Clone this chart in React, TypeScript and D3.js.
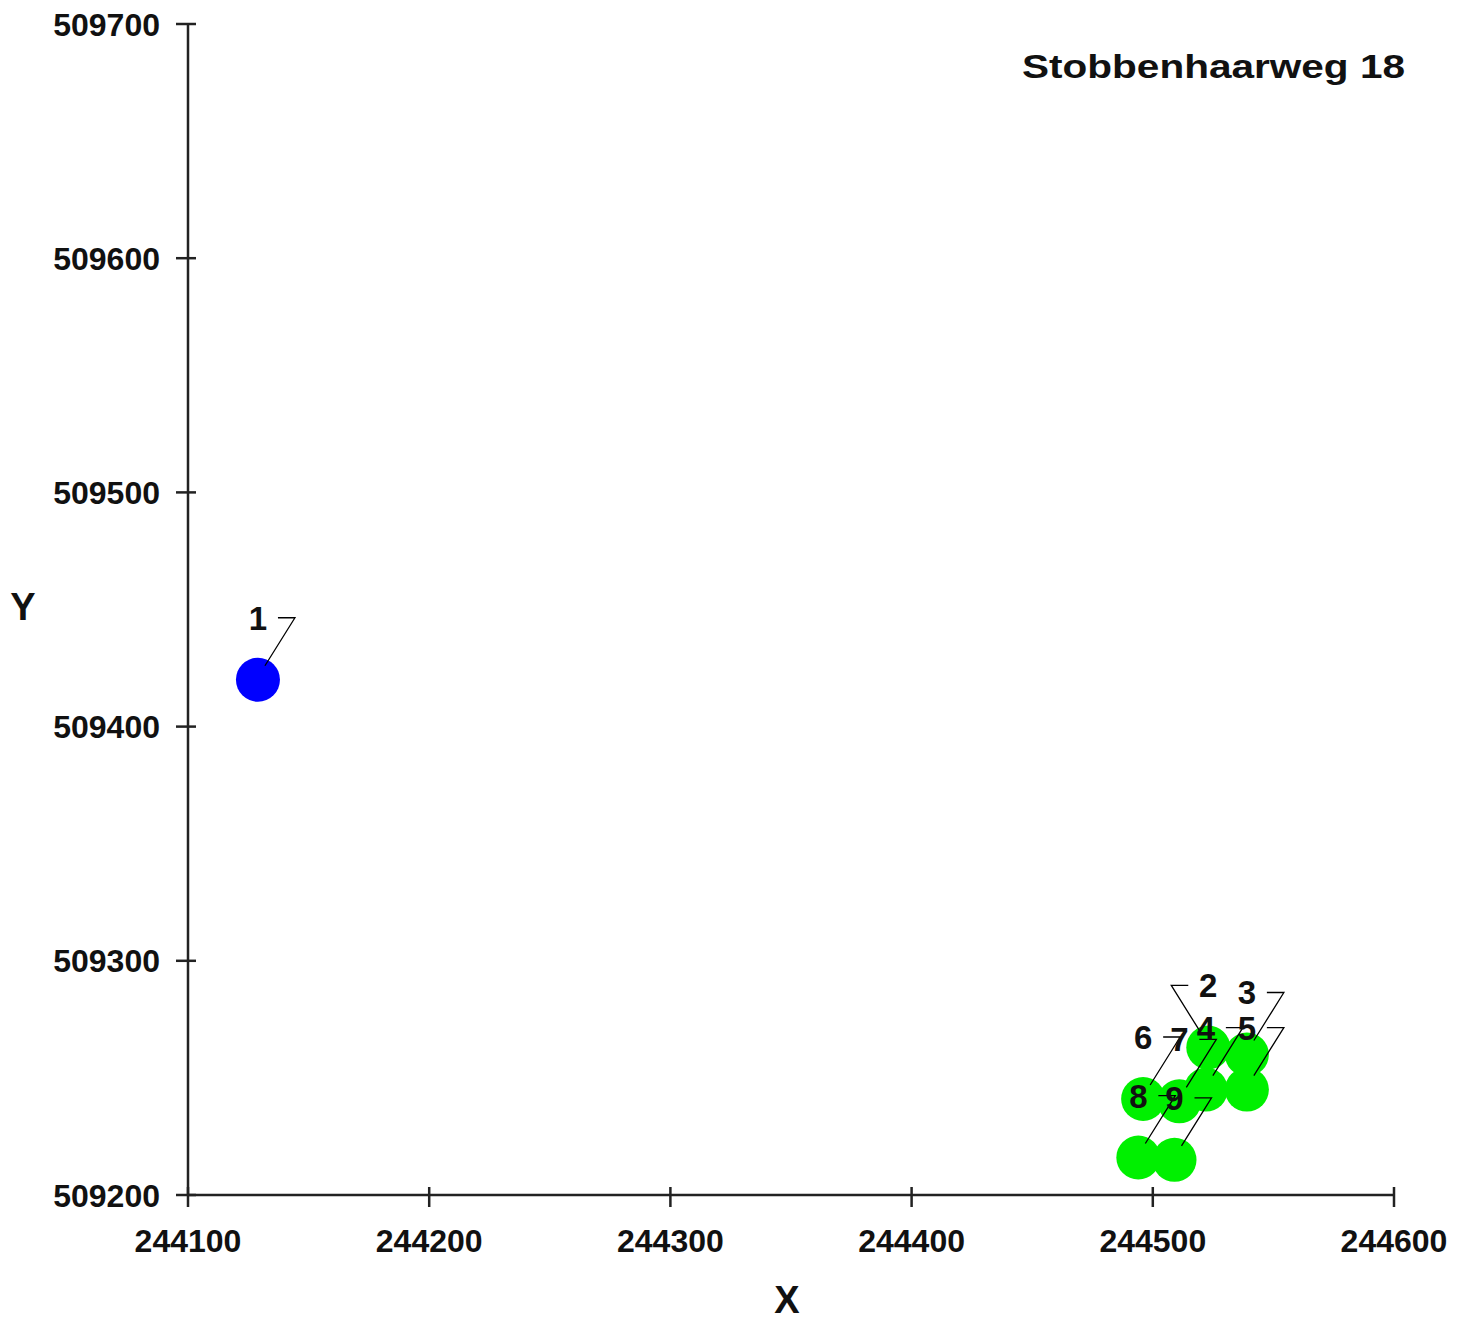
import React from "react";
import * as d3 from "d3";

const pointIds = ["1", "2", "3", "4", "5", "6", "7", "8", "9"];
const xValues = [244129, 244523, 244539, 244522, 244539, 244496, 244511, 244494, 244509];
const yValues = [509420, 509263, 509260, 509245, 509245, 509241, 509240, 509216, 509215];
const pointGroups = ["blue", "green", "green", "green", "green", "green", "green", "green", "green"];
const leaderLeftIds = ["2"];
const xTicks = [244100, 244200, 244300, 244400, 244500, 244600];
const yTicks = [509200, 509300, 509400, 509500, 509600, 509700];
const title = "Stobbenhaarweg 18";

const W = 1469;
const H = 1321;
const FONT = "'Liberation Sans', Arial, sans-serif";

export default function App() {
  const x = d3.scaleLinear().domain([244100, 244600]).range([188, 1394]);
  const y = d3.scaleLinear().domain([509200, 509700]).range([1195, 24]);
  const colors: Record<string, string> = { blue: "#0000ff", green: "#00f000" };
  const axisColor = "#222";
  const r = 22;

  const pts = pointIds.map((id, i) => ({
    id,
    px: x(xValues[i]),
    py: y(yValues[i]),
    color: colors[pointGroups[i]],
    left: leaderLeftIds.includes(id),
  }));

  return (
    <svg
      width={W}
      height={H}
      style={{ position: "absolute", left: 0, top: 0, background: "#fff", display: "block" }}
      fontFamily={FONT}
    >
      <rect x={0} y={0} width={W} height={H} fill="#fff" />
      {/* axes */}
      <line x1={x(244100)} x2={x(244600)} y1={y(509200)} y2={y(509200)} stroke={axisColor} strokeWidth={2.5} />
      <line x1={x(244100)} x2={x(244100)} y1={y(509200)} y2={y(509700)} stroke={axisColor} strokeWidth={2.5} />
      {xTicks.map((t) => (
        <g key={"xt" + t}>
          <line x1={x(t)} x2={x(t)} y1={y(509200) - 8} y2={y(509200) + 12} stroke={axisColor} strokeWidth={2.5} />
          <text x={x(t)} y={1252} textAnchor="middle" fontSize={32} fontWeight="bold" fill="#111">
            {t}
          </text>
        </g>
      ))}
      {yTicks.map((t) => (
        <g key={"yt" + t}>
          <line x1={x(244100) - 12} x2={x(244100) + 8} y1={y(t)} y2={y(t)} stroke={axisColor} strokeWidth={2.5} />
          <text x={160} y={y(t) + 11.5} textAnchor="end" fontSize={32} fontWeight="bold" fill="#111">
            {t}
          </text>
        </g>
      ))}
      <text x={23} y={620} textAnchor="middle" fontSize={38} fontWeight="bold" fill="#111">Y</text>
      <text x={787} y={1313} textAnchor="middle" fontSize={38} fontWeight="bold" fill="#111">X</text>
      <text x={1405} y={78} textAnchor="end" fontSize={34} fontWeight="bold" fill="#111" textLength={383} lengthAdjust="spacingAndGlyphs">
        {title}
      </text>
      {/* points */}
      {pts.map((p) => (
        <circle key={"c" + p.id} cx={p.px} cy={p.py} r={r} fill={p.color} />
      ))}
      {/* leaders */}
      {pts.map((p) => {
        const s = p.left ? -1 : 1;
        const ly = p.py - 62;
        const d = `M${p.px + s * 20},${ly} L${p.px + s * 37},${ly} L${p.px + s * 7},${p.py - 14}`;
        return <path key={"l" + p.id} d={d} fill="none" stroke="#000" strokeWidth={1.3} />;
      })}
      {pts.map((p) => (
        <text key={"t" + p.id} x={p.px} y={p.py - 50} textAnchor="middle" fontSize={33} fontWeight="bold" fill="#111">
          {p.id}
        </text>
      ))}
    </svg>
  );
}
